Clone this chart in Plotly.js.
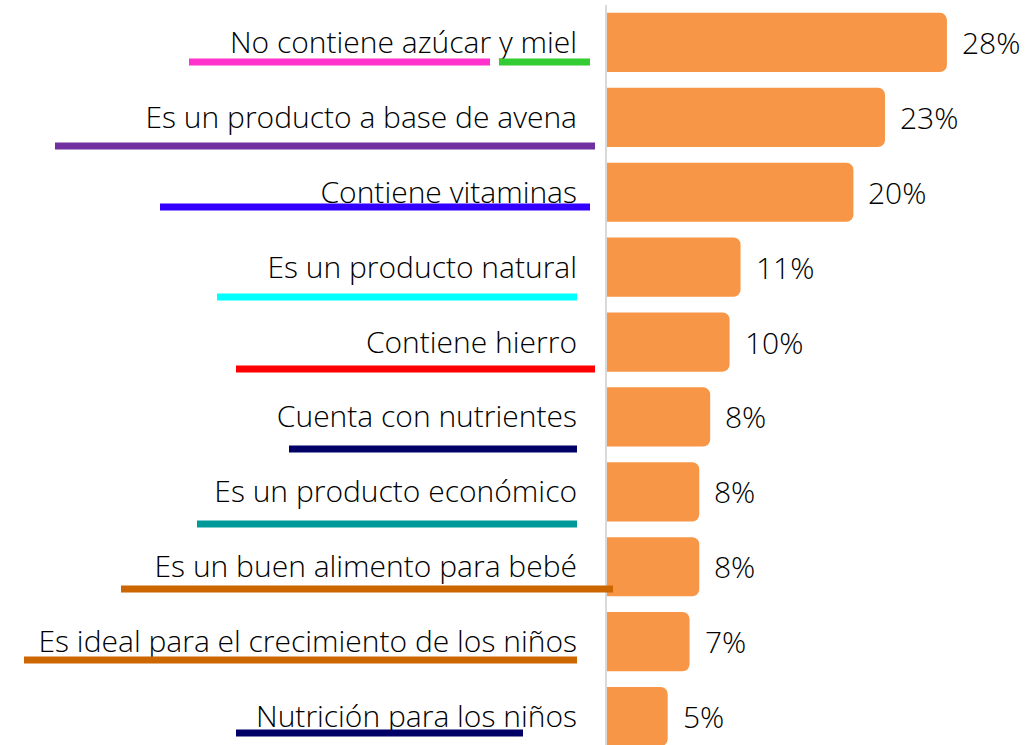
<!DOCTYPE html>
<html>
<head>
<meta charset="utf-8">
<script src="https://cdn.plot.ly/plotly-3.0.1.min.js"></script>
<style>
  html, body { margin: 0; padding: 0; background: #ffffff; }
  #chart { width: 1026px; height: 745px; }
</style>
</head>
<body>
<div id="chart"></div>
<script>
// Atributos mencionados, de arriba hacia abajo
const atributos = [
    "No contiene azúcar y miel",
    "Es un producto a base de avena",
    "Contiene vitaminas",
    "Es un producto natural",
    "Contiene hierro",
    "Cuenta con nutrientes",
    "Es un producto económico",
    "Es un buen alimento para bebé",
    "Es ideal para el crecimiento de los niños",
    "Nutrición para los niños"
];
// bar lengths (labels show the rounded value)
const porcentajes = [28, 22.9, 20.3, 11.0, 10.1, 8.5, 7.6, 7.6, 6.8, 5.0];
const etiquetas = ["28%", "23%", "20%", "11%", "10%", "8%", "8%", "8%", "7%", "5%"];

// coloured underlines drawn under the text (pixel spans in the 1026x745 page)
const subrayados = [
    { color: "#ff33cc", x0: 189, x1: 490, y: 62 },
    { color: "#33cc33", x0: 499, x1: 590, y: 62 },
    { color: "#7030a0", x0: 55,  x1: 595, y: 146 },
    { color: "#3300ff", x0: 160, x1: 590, y: 207 },
    { color: "#00ffff", x0: 217, x1: 577, y: 297 },
    { color: "#ff0000", x0: 236, x1: 595, y: 369 },
    { color: "#000066", x0: 289, x1: 577, y: 449 },
    { color: "#009999", x0: 197, x1: 577, y: 524 },
    { color: "#cc6600", x0: 121, x1: 613, y: 589 },
    { color: "#cc6600", x0: 24,  x1: 577, y: 660 },
    { color: "#000066", x0: 236, x1: 523, y: 733 }
];

const W = 1026, H = 745;
const margin = { l: 607, r: 0, t: 5, b: 0 };
const plot_w = W - margin.l - margin.r;
const plot_h = H - margin.t - margin.b;
const font = "'Open Sans', Lato, sans-serif";

let trace = {
    type: "bar",
    orientation: "h",
    y: atributos,
    x: porcentajes,
    marker: { color: "#f79646", cornerradius: 7 },
    hoverinfo: "skip"
};

let annotations = atributos.map((a, i) => ({
    x: porcentajes[i],
    y: a,
    xref: "x",
    yref: "y",
    text: etiquetas[i],
    showarrow: false,
    xanchor: "left",
    xshift: 13,
    font: { family: font, size: 30, weight: 300, color: "#000000" }
}));

let shapes = subrayados.map(s => ({
    type: "line",
    xref: "paper",
    yref: "paper",
    x0: (s.x0 - margin.l) / plot_w,
    x1: (s.x1 - margin.l) / plot_w,
    y0: 1 - (s.y - margin.t) / plot_h,
    y1: 1 - (s.y - margin.t) / plot_h,
    line: { color: s.color, width: 7 },
    layer: "above"
}));

let layout = {
    width: W,
    height: H,
    margin: margin,
    paper_bgcolor: "#ffffff",
    plot_bgcolor: "#ffffff",
    showlegend: false,
    bargap: 0.21,
    font: { family: font, color: "#000000" },
    xaxis: {
        range: [0, plot_w / 12.14],
        visible: false,
        fixedrange: true
    },
    yaxis: {
        type: "category",
        range: [9.38, -0.5],
        showline: true,
        linecolor: "#d9d9d9",
        linewidth: 2,
        showgrid: false,
        zeroline: false,
        ticks: "",
        ticklabelstandoff: 22,
        tickfont: { family: font, size: 30, weight: 300, color: "#000000" },
        fixedrange: true
    },
    annotations: annotations,
    shapes: shapes
};

Plotly.newPlot("chart", [trace], layout, { displayModeBar: false, staticPlot: true });
</script>
</body>
</html>
